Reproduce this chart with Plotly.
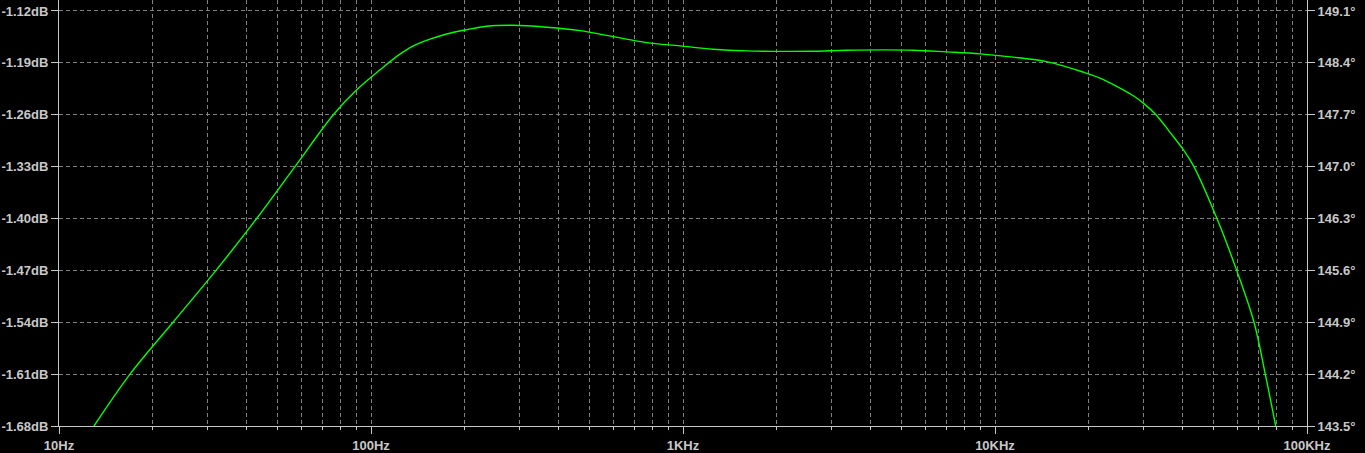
import plotly.graph_objects as go

# Frequency (Hz) and magnitude (dB)
freq_hz = [12.95, 16.89, 23.20, 31.86, 43.02, 57.06, 75.74, 90.0, 106.9, 123.8,
           136.6, 154.6, 174.8, 200.5, 234.9, 285.2, 365.7, 467.6, 596.6, 765.0,
           978.2, 1248, 1600, 2611, 3346, 5461, 7000, 8953, 11420, 14640,
           19190, 21700, 24550, 27760, 29880, 32810, 36390, 40130, 43400, 51450,
           59520, 67640, 73500, 79370]
mag_db = [-1.68, -1.61, -1.54, -1.47, -1.40, -1.33, -1.26, -1.2263, -1.1994, -1.1783,
          -1.1671, -1.1581, -1.1510, -1.1456, -1.1406, -1.1393, -1.1419, -1.1465, -1.1546, -1.1627,
          -1.1671, -1.1716, -1.1738, -1.1743, -1.1729, -1.1729, -1.1752, -1.1779, -1.1823, -1.1883,
          -1.2025, -1.2106, -1.2216, -1.2344, -1.2443, -1.26, -1.2838, -1.3071, -1.33, -1.40,
          -1.47, -1.54, -1.61, -1.68]

# Axis ticks
x_tick_vals = [10, 100, 1000, 10000, 100000]
x_tick_text = ["10Hz", "100Hz", "1KHz", "10KHz", "100KHz"]
x_minor_vals = [m * d for d in [10, 100, 1000, 10000] for m in range(2, 10)]
left_tick_vals = [-1.68, -1.61, -1.54, -1.47, -1.40, -1.33, -1.26, -1.19, -1.12]
left_tick_text = ["%.2fdB" % v for v in left_tick_vals]
right_tick_vals = [143.5, 144.2, 144.9, 145.6, 146.3, 147.0, 147.7, 148.4, 149.1]
right_tick_text = ["%.1f°" % v for v in right_tick_vals]

AXIS = "#c8c8c8"
GRID = "#808080"
FONT = dict(family="Liberation Sans", size=13, color="#c8c8c8", weight="bold")

fig = go.Figure()
fig.add_trace(go.Scatter(x=freq_hz, y=mag_db, mode="lines",
                         line=dict(color="#00ff00", width=1.4, shape="spline", smoothing=1.0),
                         hoverinfo="skip"))
# invisible trace to carry the right (phase) axis
fig.add_trace(go.Scatter(x=[x_tick_vals[0], x_tick_vals[-1]],
                         y=[right_tick_vals[0], right_tick_vals[-1]],
                         mode="markers", marker=dict(opacity=0), yaxis="y2",
                         hoverinfo="skip"))

top_extra = 11 * 0.07 / 52.0

fig.update_layout(
    width=1365, height=453,
    margin=dict(l=59, r=58, t=0, b=27),
    paper_bgcolor="black", plot_bgcolor="black",
    showlegend=False,
    font=FONT,
    xaxis=dict(type="log", range=[1, 5],
               tickvals=x_tick_vals, ticktext=x_tick_text,
               ticks="outside", ticklen=7, tickcolor=AXIS, tickwidth=1,
               showline=True, linecolor=AXIS, linewidth=1,
               showgrid=True, gridcolor=GRID, griddash="4px,3px", gridwidth=1,
               zeroline=False, tickfont=FONT, automargin=False,
               minor=dict(tickvals=x_minor_vals, ticks="outside", ticklen=3,
                          tickcolor=AXIS, showgrid=True, gridcolor=GRID,
                          griddash="4px,3px", gridwidth=1)),
    yaxis=dict(range=[-1.68, -1.12 + top_extra],
               tickvals=left_tick_vals, ticktext=left_tick_text,
               ticks="outside", ticklen=7, tickcolor=AXIS,
               showline=True, linecolor=AXIS, linewidth=1,
               showgrid=True, gridcolor=GRID, griddash="4px,3px", gridwidth=1,
               zeroline=False, tickfont=FONT, automargin=False),
    yaxis2=dict(range=[143.5, 149.1 + top_extra * 10],
                overlaying="y", side="right", anchor="x",
                tickvals=right_tick_vals, ticktext=right_tick_text,
                ticks="outside", ticklen=7, tickcolor=AXIS,
                showline=True, linecolor=AXIS, linewidth=1,
                showgrid=False, zeroline=False, tickfont=FONT, automargin=False),
)

fig.write_html("out.html", config={"displayModeBar": False},
               post_script="document.body.style.margin='0';document.body.style.overflow='hidden';")
